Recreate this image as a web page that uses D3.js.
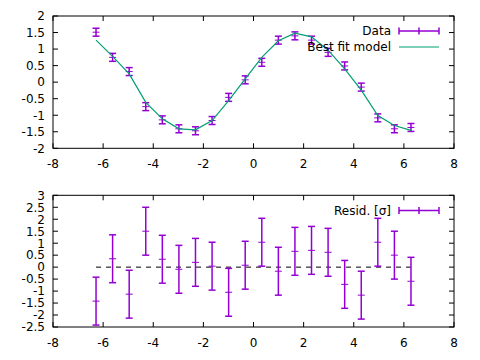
<!DOCTYPE html>
<html>
<head>
<meta charset="utf-8">
<script src="https://cdn.jsdelivr.net/npm/d3@7"></script>
<style>
body { margin: 0; background: #fff; }
text { font-family: "DejaVu Sans", sans-serif; font-size: 12px; fill: #000; }
</style>
</head>
<body>
<div id="viz"></div>
<script>
// data
var xs = [-6.283, -5.622, -4.960, -4.299, -3.638, -2.976, -2.315, -1.653, -0.992, -0.331,
          0.331, 0.992, 1.653, 2.315, 2.976, 3.638, 4.299, 4.960, 5.622, 6.283];
var dataY = [1.51, 0.75, 0.32, -0.74, -1.14, -1.41, -1.47, -1.16, -0.46, 0.07,
             0.60, 1.27, 1.40, 1.27, 0.90, 0.49, -0.15, -1.08, -1.41, -1.37];
var dataErr = [0.12, 0.12, 0.12, 0.12, 0.12, 0.12, 0.12, 0.12, 0.12, 0.12,
               0.12, 0.12, 0.12, 0.12, 0.12, 0.12, 0.12, 0.12, 0.12, 0.12];
var modelY = [1.27, 0.78, 0.25, -0.61, -1.11, -1.41, -1.44, -1.16, -0.56, 0.10,
              0.75, 1.25, 1.48, 1.37, 0.97, 0.40, -0.24, -1.01, -1.31, -1.46];
var resid = [-1.42, 0.35, -1.13, 1.50, 0.33, -0.09, 0.20, 0.04, -1.05, 0.08,
             1.04, -0.17, 0.66, 0.70, 0.62, -0.72, -1.17, 1.04, 0.50, -0.59];
var xTicks = [-8, -6, -4, -2, 0, 2, 4, 6, 8];
var topTicks = [-2, -1.5, -1, -0.5, 0, 0.5, 1, 1.5, 2];
var botTicks = [-2.5, -2, -1.5, -1, -0.5, 0, 0.5, 1, 1.5, 2, 2.5, 3];

var purple = "#9400d3", green = "#009e73";
var left = 53, right = 454;

var svg = d3.select("#viz").append("svg").attr("width", 480).attr("height", 360);

function drawPanel(top, bottom, yDomain, yTicks) {
	var x = d3.scaleLinear().domain([-8, 8]).range([left, right]);
	var y = d3.scaleLinear().domain(yDomain).range([bottom, top]);
	var g = svg.append("g");
	// ticks, inward, mirrored
	xTicks.forEach(function(t) {
		g.append("line").attr("x1", x(t)).attr("x2", x(t)).attr("y1", bottom).attr("y2", bottom - 5).attr("stroke", "#000");
		g.append("line").attr("x1", x(t)).attr("x2", x(t)).attr("y1", top).attr("y2", top + 5).attr("stroke", "#000");
		g.append("text").attr("x", x(t)).attr("y", bottom + 20).attr("text-anchor", "middle").text(t);
	});
	yTicks.forEach(function(t) {
		g.append("line").attr("x1", left).attr("x2", left + 5).attr("y1", y(t)).attr("y2", y(t)).attr("stroke", "#000");
		g.append("line").attr("x1", right).attr("x2", right - 5).attr("y1", y(t)).attr("y2", y(t)).attr("stroke", "#000");
		g.append("text").attr("x", left - 8).attr("y", y(t)).attr("dy", "0.36em").attr("text-anchor", "end").text(t);
	});
	g.append("rect").attr("x", left).attr("y", top).attr("width", right - left).attr("height", bottom - top)
		.attr("fill", "none").attr("stroke", "#000");
	return {x: x, y: y, g: g};
}

function errorBars(p, vals, errs) {
	xs.forEach(function(xv, i) {
		var cx = p.x(xv), y0 = p.y(vals[i] - errs[i]), y1 = p.y(vals[i] + errs[i]);
		p.g.append("line").attr("x1", cx).attr("x2", cx).attr("y1", y0).attr("y2", y1).attr("stroke", purple).attr("stroke-width", 1.5);
		[y0, y1, p.y(vals[i])].forEach(function(yy, k) {
			p.g.append("line").attr("x1", cx - 3.5).attr("x2", cx + 3.5).attr("y1", yy).attr("y2", yy)
				.attr("stroke", purple).attr("stroke-width", k == 2 ? 1 : 1.5);
		});
	});
}

function legendBar(g, yy, label) {
	g.append("text").attr("x", 391).attr("y", yy).attr("dy", "0.36em").attr("text-anchor", "end").text(label);
	g.append("line").attr("x1", 399).attr("x2", 439).attr("y1", yy).attr("y2", yy).attr("stroke", purple).attr("stroke-width", 1.5);
	[399, 419, 439].forEach(function(xx) {
		g.append("line").attr("x1", xx).attr("x2", xx).attr("y1", yy - 3.5).attr("y2", yy + 3.5).attr("stroke", purple).attr("stroke-width", 1.5);
	});
}

// top panel
var p1 = drawPanel(16, 148.3, [-2, 2], topTicks);
errorBars(p1, dataY, dataErr);
var line = d3.line().x(function(d, i) { return p1.x(xs[i]); }).y(function(d) { return p1.y(d); });
p1.g.append("path").datum(modelY).attr("d", line).attr("fill", "none").attr("stroke", green).attr("stroke-width", 1.2);
legendBar(p1.g, 31, "Data");
p1.g.append("text").attr("x", 391).attr("y", 47).attr("dy", "0.36em").attr("text-anchor", "end").text("Best fit model");
p1.g.append("line").attr("x1", 399).attr("x2", 439).attr("y1", 47).attr("y2", 47).attr("stroke", green).attr("stroke-width", 1.2);

// bottom panel
var p2 = drawPanel(195.3, 327, [-2.5, 3], botTicks);
p2.g.append("line").attr("x1", p2.x(xs[0])).attr("x2", p2.x(xs[xs.length - 1]))
	.attr("y1", p2.y(0)).attr("y2", p2.y(0)).attr("stroke", "#000").attr("stroke-dasharray", "5,5");
errorBars(p2, resid, resid.map(function() { return 1; }));
legendBar(p2.g, 210.5, "Resid. [σ]");
</script>
</body>
</html>
